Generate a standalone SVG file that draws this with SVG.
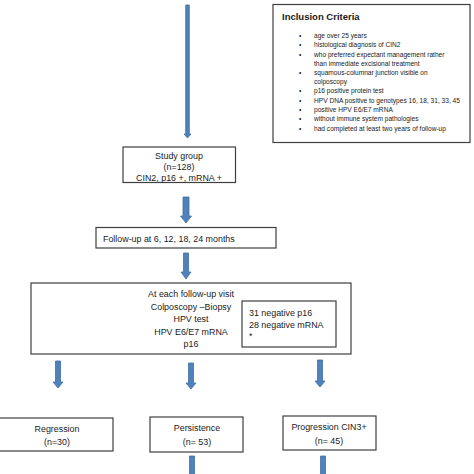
<svg xmlns="http://www.w3.org/2000/svg" width="474" height="474" viewBox="0 0 474 474">
<style>
.box{fill:#fff;stroke:#3f3f3f;stroke-width:1.2}
.arr{fill:#4F81BD;stroke:#41719C;stroke-width:0.8}
.t{font-family:"Liberation Sans",Arial,sans-serif;font-size:8.9px;fill:#1a1a1a}
.c{text-anchor:middle}
.s{font-family:"Liberation Sans",Arial,sans-serif;font-size:6.6px;fill:#1a1a1a}
.h{font-family:"Liberation Sans",Arial,sans-serif;font-size:9.5px;font-weight:bold;fill:#1a1a1a}
</style>
<rect width="474" height="474" fill="#fff"/>
<g id="connectors">
<path class="arr" d="M185.7 5H189.3V134H191L187.5 138L184 134H185.7Z"/>
<path class="arr" d="M183 197H189V216H191.5L186 223L180.5 216H183Z"/>
<path class="arr" d="M183.5 253H188.5V272H191L186 279L181 272H183.5Z"/>
<path class="arr" d="M55.5 361H60.5V382H63L58 388L53 382H55.5Z"/>
<path class="arr" d="M188.5 363H193.5V383H196L191 389L186 383H188.5Z"/>
<path class="arr" d="M317.5 360H322.5V381H325L320 387L315 381H317.5Z"/>
<path class="arr" d="M189.5 456H194.5V476H189.5Z"/>
<path class="arr" d="M320.5 456H325.5V476H320.5Z"/>
</g>
<g id="inclusion">
<rect class="box" x="273" y="4.5" width="197" height="138" stroke-width="1.5"/>
<text class="h" x="282" y="20">Inclusion Criteria</text>
<g class="s">
<text x="299" y="38">•</text><text x="314" y="38">age over 25 years</text>
<text x="299" y="47">•</text><text x="314" y="47">histological diagnosis of CIN2</text>
<text x="299" y="56.5">•</text><text x="314" y="56.5">who preferred expectant management rather</text>
<text x="314" y="65.5">than immediate excisional treatment</text>
<text x="299" y="75">•</text><text x="314" y="75">squamous-columnar junction visible on</text>
<text x="314" y="84">colposcopy</text>
<text x="299" y="93">•</text><text x="314" y="93">p16 positive protein test</text>
<text x="299" y="102.5">•</text><text x="314" y="102.5">HPV DNA positive to genotypes 16, 18, 31, 33, 45</text>
<text x="299" y="112">•</text><text x="314" y="112">positive HPV E6/E7 mRNA</text>
<text x="299" y="121">•</text><text x="314" y="121">without immune system pathologies</text>
<text x="299" y="130.5">•</text><text x="314" y="130.5">had completed at least two years of follow-up</text>
</g>
</g>
<g id="study">
<rect class="box" x="123" y="147" width="112.5" height="35.5"/>
<text class="t c" x="179" y="159">Study group</text>
<text class="t c" x="179" y="170">(n=128)</text>
<text class="t c" x="179" y="181">CIN2, p16 +, mRNA +</text>
</g>
<g id="followup">
<rect class="box" x="96" y="227.5" width="180" height="20.5"/>
<text class="t" x="103" y="241.5">Follow-up at 6, 12, 18, 24 months</text>
</g>
<g id="visit">
<rect class="box" x="31" y="283" width="320" height="71"/>
<text class="t c" x="191" y="297">At each follow-up visit</text>
<text class="t c" x="191" y="309.5">Colposcopy –Biopsy</text>
<text class="t c" x="191" y="322">HPV test</text>
<text class="t c" x="191" y="334.5">HPV E6/E7 mRNA</text>
<text class="t c" x="191" y="347">p16</text>
</g>
<g id="negatives">
<rect class="box" x="242" y="301" width="94" height="46"/>
<text class="t" x="249" y="316">31 negative p16</text>
<text class="t" x="249" y="327.5">28 negative mRNA</text>
<text class="t" x="249" y="339">*</text>
</g>
<g id="regression">
<rect class="box" x="-2" y="418" width="115" height="33"/>
<text class="t c" x="57" y="431.5">Regression</text>
<text class="t c" x="57" y="444.5">(n=30)</text>
</g>
<g id="persistence">
<rect class="box" x="150" y="417" width="93" height="35"/>
<text class="t c" x="197" y="431">Persistence</text>
<text class="t c" x="197" y="444.5">(n= 53)</text>
</g>
<g id="progression">
<rect class="box" x="283" y="416" width="93" height="34"/>
<text class="t c" x="329" y="430">Progression CIN3+</text>
<text class="t c" x="329" y="443.5">(n= 45)</text>
</g>
</svg>
